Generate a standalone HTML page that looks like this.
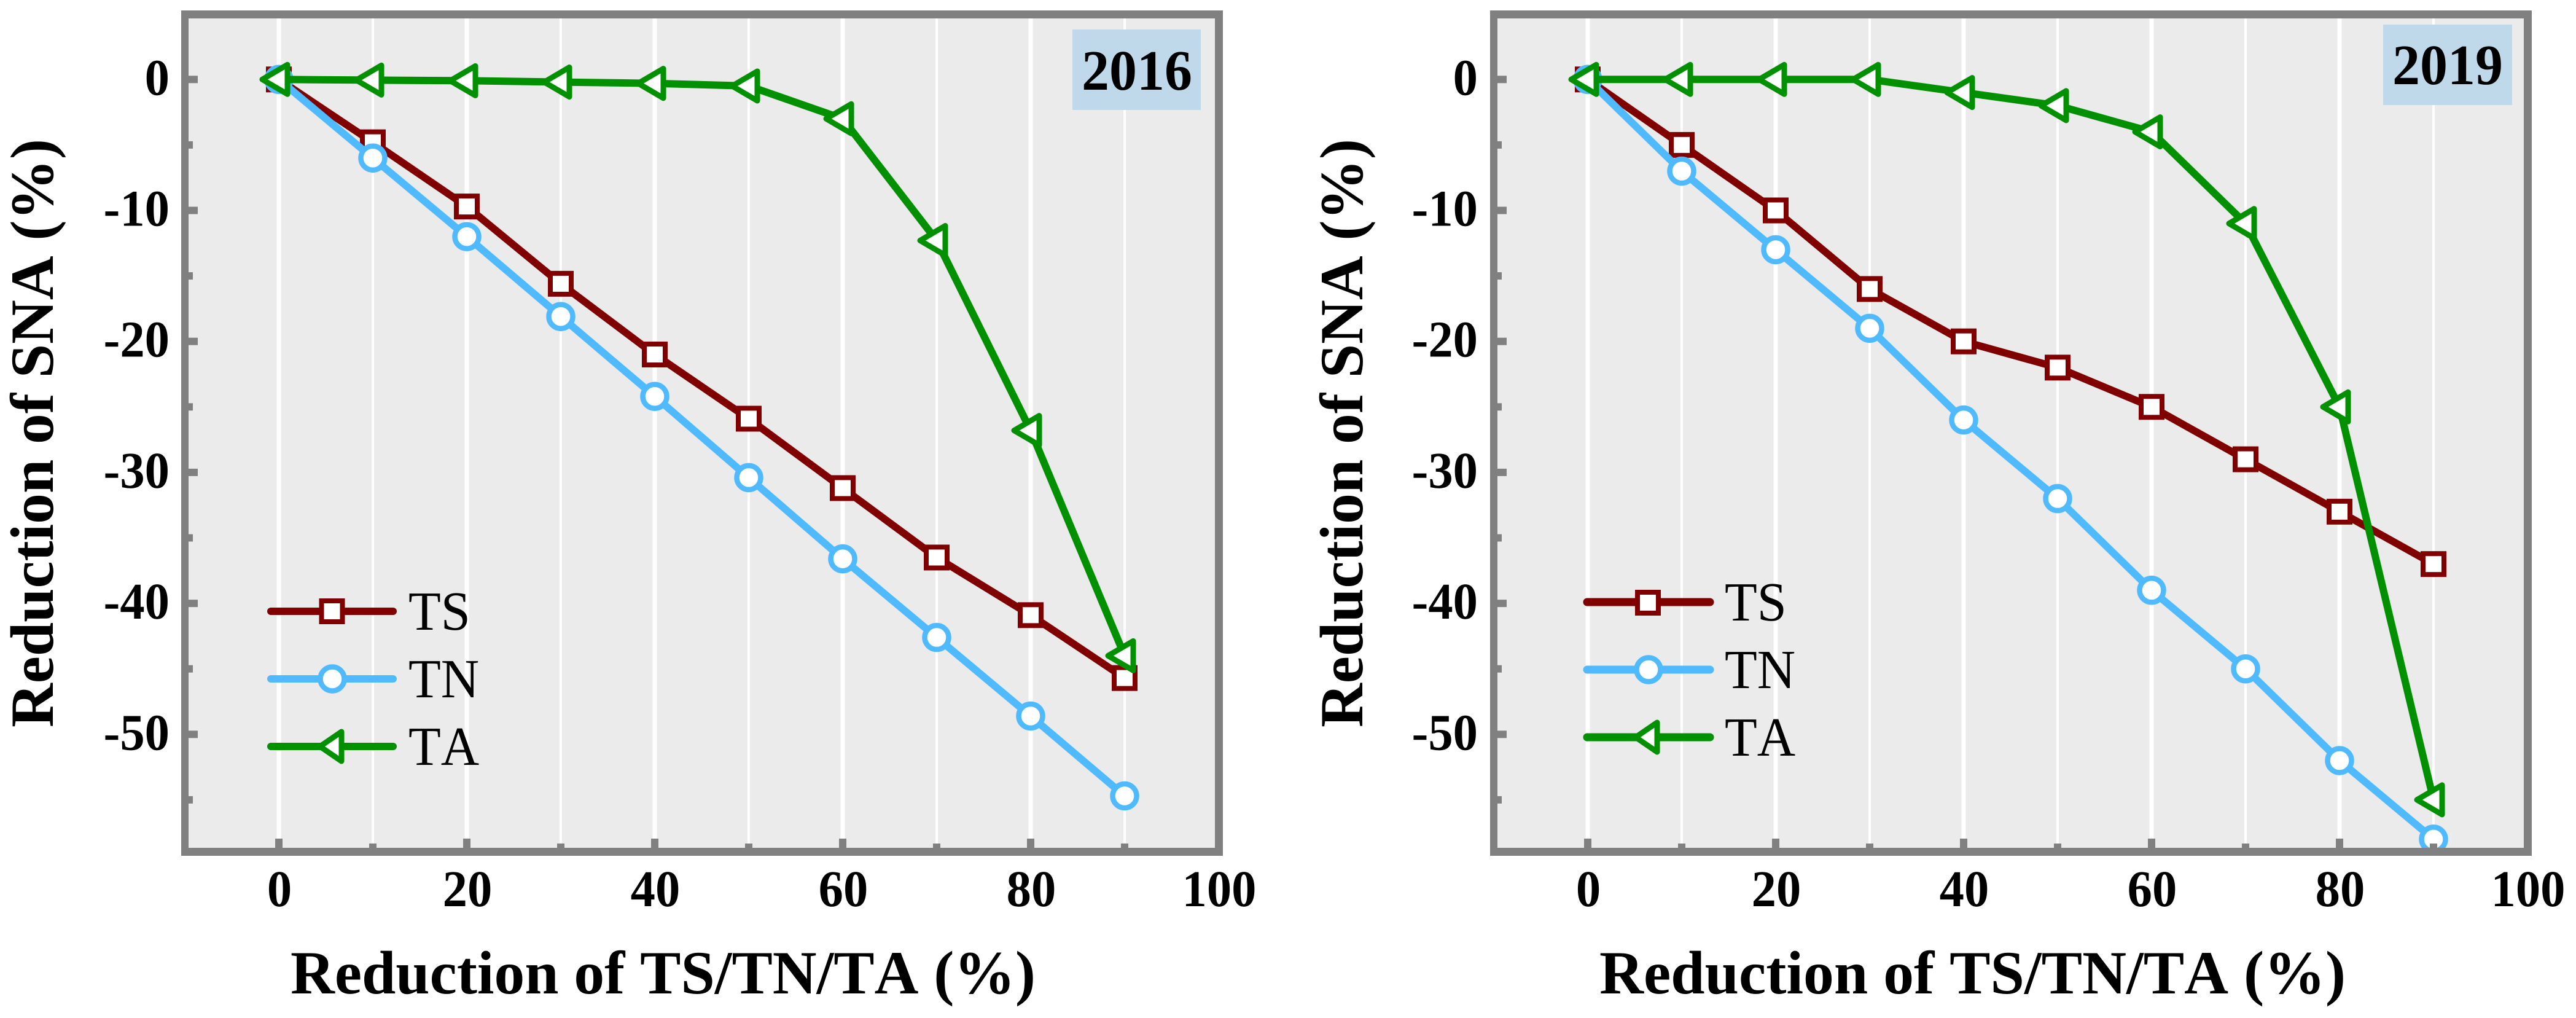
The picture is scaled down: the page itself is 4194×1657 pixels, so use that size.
<!DOCTYPE html>
<html lang="en">
<head>
<meta charset="utf-8">
<title>Reduction of SNA, 2016 and 2019</title>
<style>
html,body{margin:0;padding:0;background:#fff;}
svg{display:block;}
text{font-family:"Liberation Serif","Times New Roman",serif;fill:#000;font-kerning:none;text-rendering:geometricPrecision;}
.b{font-weight:bold;}
</style>
</head>
<body>
<svg id="figure" xmlns="http://www.w3.org/2000/svg" width="4194" height="1657" viewBox="0 0 4194 1657">
  <rect x="0" y="0" width="4194" height="1657" fill="#fff"/>

  <g id="panel-a">
    <rect x="295" y="17" width="1696" height="1376" fill="#ebebeb"/>
    <g id="panel-a-grid"></g>
    <g id="legend-a">
      <g>
        <line x1="441" y1="995" x2="640" y2="995" stroke="#800000" stroke-width="12" stroke-linecap="round"/>
        <rect x="523.5" y="978" width="34" height="34" fill="#fff" stroke="#800000" stroke-width="8"/>
        <text transform="translate(665,1025) scale(.96,1)" font-size="90">TS</text>
      </g>
      <g>
        <line x1="441" y1="1105" x2="640" y2="1105" stroke="#4fbaff" stroke-width="12" stroke-linecap="round"/>
        <circle cx="541" cy="1105" r="19.5" fill="#fff" stroke="#4fbaff" stroke-width="8.5"/>
        <text transform="translate(665,1135) scale(.96,1)" font-size="90">TN</text>
      </g>
      <g>
        <line x1="441" y1="1215" x2="640" y2="1215" stroke="#009000" stroke-width="12" stroke-linecap="round"/>
        <path d="M521 1215 L556 1191 V1239 Z" fill="#fff" stroke="#009000" stroke-width="9" stroke-linejoin="round"/>
        <text transform="translate(665,1245) scale(.96,1)" font-size="90">TA</text>
      </g>
    </g>
    <g id="panel-a-series"></g>
    <g id="panel-a-frame"></g>
    <rect x="1746" y="48" width="209" height="131" fill="#bfd9eb"/>
    <text class="b" x="1761" y="146" font-size="93" textLength="180" lengthAdjust="spacingAndGlyphs">2016</text>
    <g id="panel-a-labels"></g>
    <text class="b" x="473" y="1617" font-size="100" textLength="1213" lengthAdjust="spacingAndGlyphs">Reduction of TS/TN/TA (%)</text>
    <text class="b" transform="translate(86,1184) rotate(-90)" font-size="100" textLength="958" lengthAdjust="spacingAndGlyphs">Reduction of SNA (%)</text>
  </g>

  <g id="panel-b">
    <rect x="2426" y="17" width="1696" height="1376" fill="#ebebeb"/>
    <g id="panel-b-grid"></g>
    <g id="legend-b">
      <g>
        <line x1="2584" y1="980" x2="2784" y2="980" stroke="#800000" stroke-width="13" stroke-linecap="round"/>
        <rect x="2666" y="964" width="34" height="34" fill="#fff" stroke="#800000" stroke-width="8"/>
        <text transform="translate(2808,1010) scale(.96,1)" font-size="90">TS</text>
      </g>
      <g>
        <line x1="2584" y1="1090" x2="2784" y2="1090" stroke="#4fbaff" stroke-width="13" stroke-linecap="round"/>
        <circle cx="2684" cy="1090" r="19.5" fill="#fff" stroke="#4fbaff" stroke-width="8.5"/>
        <text transform="translate(2808,1120) scale(.96,1)" font-size="90">TN</text>
      </g>
      <g>
        <line x1="2584" y1="1200" x2="2784" y2="1200" stroke="#009000" stroke-width="13" stroke-linecap="round"/>
        <path d="M2663 1200 L2698 1176 V1224 Z" fill="#fff" stroke="#009000" stroke-width="9" stroke-linejoin="round"/>
        <text transform="translate(2808,1230) scale(.96,1)" font-size="90">TA</text>
      </g>
    </g>
    <g id="panel-b-series"></g>
    <g id="panel-b-frame"></g>
    <rect x="3880" y="40" width="210" height="131" fill="#bfd9eb"/>
    <text class="b" x="3895" y="137" font-size="93" textLength="180" lengthAdjust="spacingAndGlyphs">2019</text>
    <g id="panel-b-labels"></g>
    <text class="b" x="2604" y="1617" font-size="100" textLength="1215" lengthAdjust="spacingAndGlyphs">Reduction of TS/TN/TA (%)</text>
    <text class="b" transform="translate(2218,1184) rotate(-90)" font-size="100" textLength="958" lengthAdjust="spacingAndGlyphs">Reduction of SNA (%)</text>
  </g>
</svg>

<script>
// ---- chart data ----
const reductionLevels = [0, 10, 20, 30, 40, 50, 60, 70, 80, 90];

const ts2016 = [0, -4.8, -9.7, -15.6, -21.0, -25.9, -31.2, -36.5, -40.9, -45.7];
const tn2016 = [0, -6.0, -12.0, -18.1, -24.2, -30.4, -36.6, -42.6, -48.6, -54.7];
const ta2016 = [0, -0.05, -0.1, -0.2, -0.3, -0.5, -3.0, -12.3, -26.8, -44.0];

const ts2019 = [0, -5, -10, -16, -20, -22, -25, -29, -33, -37];
const tn2019 = [0, -7, -13, -19, -26, -32, -39, -45, -52, -58];
const ta2019 = [0, 0, 0, 0, -1, -2, -4, -11, -25, -55];

const xMajorTicks = [0, 20, 40, 60, 80];
const xMinorTicks = [10, 30, 50, 70, 90];
const xLabelValues = [0, 20, 40, 60, 80, 100];
const xTickLabels = ['0', '20', '40', '60', '80', '100'];
const yMajorTicks = [0, -10, -20, -30, -40, -50];
const yMinorTicks = [-5, -15, -25, -35, -45, -55];
const yTickLabels = ['0', '-10', '-20', '-30', '-40', '-50'];

// ---- layout & drawing ----
const NS = 'http://www.w3.org/2000/svg';
const FRAME = '#808080';
const X_UNIT = 15.3;
const Y_UNIT = 21.32;
const ZERO_Y = 129.3;
const TS_COLOR = '#800000';
const TN_COLOR = '#4fbaff';
const TA_COLOR = '#009000';

function xAxis(zeroX, v) { return zeroX + v * X_UNIT; }
function yAxis(v) { return ZERO_Y - v * Y_UNIT; }

function make(tag, parent, props) {
  const el = document.createElementNS(NS, tag);
  for (const k in props) el.setAttribute(k, props[k]);
  parent.appendChild(el);
  return el;
}

function drawPanel(prefix, zeroX, outerL, outerR, labelRight, ts, tn, ta) {
  const grid = document.getElementById(prefix + '-grid');
  const series = document.getElementById(prefix + '-series');
  const frame = document.getElementById(prefix + '-frame');
  const labels = document.getElementById(prefix + '-labels');
  const top = 17, bottom = 1393, bw = 12, bh = 13;
  const innerL = outerL + bw, innerR = outerR - bw - 1, innerT = top + bh, innerB = bottom - bh;

  // vertical gridlines
  reductionLevels.forEach(function (v) {
    const major = xMajorTicks.indexOf(v) >= 0;
    const gl = make('line', grid, {
      x1: xAxis(zeroX, v), x2: xAxis(zeroX, v), y1: innerT, y2: innerB,
      stroke: '#ffffff', 'stroke-width': major ? 7 : 4
    });
    
    
  });

  function lineFor(vals, color, name) {
    const pts = vals.map(function (v, i) {
      return xAxis(zeroX, reductionLevels[i]).toFixed(1) + ',' + yAxis(v).toFixed(1);
    }).join(' ');
    const pl = make('polyline', series, {
      points: pts, fill: 'none', stroke: color, 'stroke-width': 12, 'stroke-linejoin': 'miter'
    });
    
    
  }

  // TS: line + square markers
  lineFor(ts, TS_COLOR, 'series-line-ts');
  ts.forEach(function (v, i) {
    const cx = xAxis(zeroX, reductionLevels[i]), cy = yAxis(v);
    const m = make('rect', series, {
      x: cx - 17, y: cy - 17, width: 34, height: 34,
      fill: '#fff', stroke: TS_COLOR, 'stroke-width': 8
    });
    
    
  });

  // TN: line + circle markers
  lineFor(tn, TN_COLOR, 'series-line-tn');
  tn.forEach(function (v, i) {
    const m = make('circle', series, {
      cx: xAxis(zeroX, reductionLevels[i]), cy: yAxis(v), r: 19.5,
      fill: '#fff', stroke: TN_COLOR, 'stroke-width': 8.5
    });
    
    
  });

  // TA: line + left-pointing triangle markers
  lineFor(ta, TA_COLOR, 'series-line-ta');
  ta.forEach(function (v, i) {
    const cx = xAxis(zeroX, reductionLevels[i]), cy = yAxis(v);
    const d = 'M' + (cx - 27) + ' ' + cy + ' L' + (cx + 14) + ' ' + (cy - 24) + ' V' + (cy + 24) + ' Z';
    const m = make('path', series, {
      d: d, fill: '#fff', stroke: TA_COLOR, 'stroke-width': 9, 'stroke-linejoin': 'round'
    });
    
    
  });

  // frame
  const edges = [
    [outerL, top, outerR - outerL, bh],
    [outerL, innerB, outerR - outerL, bh],
    [outerL, top, bw, bottom - top],
    [innerR, top, outerR - innerR, bottom - top]
  ];
  edges.forEach(function (e) {
    const r = make('rect', frame, { x: e[0], y: e[1], width: e[2], height: e[3], fill: FRAME });
    
    
  });

  // x ticks
  function xTick(v, len, name) {
    const t = make('rect', frame, {
      x: xAxis(zeroX, v) - 6, y: innerB - len, width: 12, height: len, fill: FRAME
    });
    
    
  }
  xMajorTicks.forEach(function (v) { xTick(v, 15, 'x-major-tick'); });
  xMinorTicks.forEach(function (v) { xTick(v, 7, 'x-minor-tick'); });

  // y ticks
  function yTick(v, len, name) {
    const t = make('rect', frame, {
      x: innerL, y: yAxis(v) - 6, width: len, height: 12, fill: FRAME
    });
    
    
  }
  yMajorTicks.forEach(function (v) { yTick(v, 15, 'y-major-tick'); });
  yMinorTicks.forEach(function (v) { yTick(v, 7, 'y-minor-tick'); });

  // tick labels
  xTickLabels.forEach(function (s, i) {
    const tx = make('text', labels, {
      transform: 'translate(' + (xAxis(zeroX, xLabelValues[i]) + 1) + ',1475) scale(.96,1)',
      'text-anchor': 'middle', 'font-size': 84, 'font-weight': 'bold'
    });
    tx.textContent = s;
    
    
  });
  yTickLabels.forEach(function (s, i) {
    const tx = make('text', labels, {
      transform: 'translate(' + labelRight + ',' + (yAxis(yMajorTicks[i]) + 25) + ') scale(.96,1)',
      'text-anchor': 'end', 'font-size': 84, 'font-weight': 'bold'
    });
    tx.textContent = s;
    
    
  });
}

drawPanel('panel-a', 454, 295, 1991, 276, ts2016, tn2016, ta2016);
drawPanel('panel-b', 2585, 2426, 4122, 2406, ts2019, tn2019, ta2019);
</script>
</body>
</html>
